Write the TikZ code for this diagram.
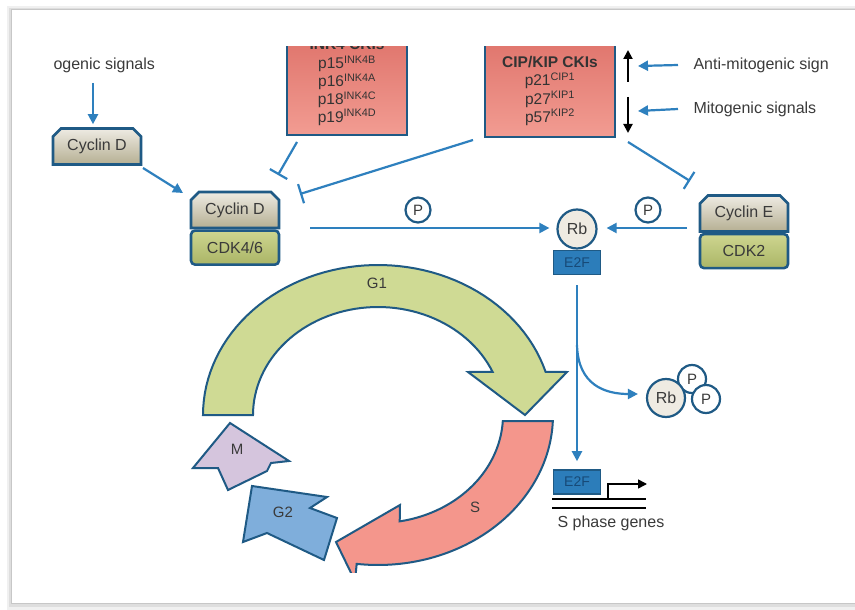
\documentclass[tikz,border=0pt]{standalone}
\usepackage{fontspec}
\setmainfont{Liberation Sans}
\usepackage{tikz}
\usetikzlibrary{arrows.meta,positioning,shapes.misc}

\definecolor{sigblue}{HTML}{2E80BE}
\definecolor{edgeblue}{HTML}{1F5A85}
\definecolor{txtgray}{HTML}{3A3A3A}
\definecolor{cycTop}{HTML}{EEEBE3}
\definecolor{cycBot}{HTML}{B5AF92}
\definecolor{cdkTop}{HTML}{CED690}
\definecolor{cdkBot}{HTML}{AAB566}
\definecolor{ckiDark}{HTML}{D9675F}
\definecolor{ckiLight}{HTML}{F29C92}
\definecolor{gone}{HTML}{CFDA94}
\definecolor{sfill}{HTML}{F4968C}
\definecolor{gtwo}{HTML}{7FAEDB}
\definecolor{mfill}{HTML}{D5C5DD}
\definecolor{rbfill}{HTML}{EFEBE2}
\definecolor{etwof}{HTML}{2C7DBA}
\definecolor{etwot}{HTML}{174A78}

\tikzset{
  lbl/.style={font=\fontsize{16}{18}\selectfont, text=txtgray},
  sig/.style={draw=sigblue, line width=2.2pt, -{Triangle[length=10pt,width=10pt]}},
  inh/.style={draw=sigblue, line width=2.2pt, -{Bar[width=20pt,line width=2.2pt]}},
  cycbox/.style={shape=chamfered rectangle, chamfered rectangle corners={north west,north east},
    chamfered rectangle xsep=4pt, chamfered rectangle ysep=4pt, draw=edgeblue, line width=2.6pt,
    top color=cycTop, bottom color=cycBot, minimum width=88pt, minimum height=36pt,
    inner sep=0pt, lbl},
  cdkbox/.style={rectangle, rounded corners=4pt, draw=edgeblue, line width=2.6pt,
    top color=cdkTop, bottom color=cdkBot, minimum width=88pt, minimum height=34pt,
    inner sep=0pt, lbl},
  ckibox/.style={rectangle, draw=edgeblue, line width=2.6pt, top color=ckiDark,
    bottom color=ckiLight, inner sep=0pt},
  ckitxt/.style={font=\fontsize{15.5}{17}\selectfont, text=black!80, anchor=base},
  pcirc/.style={circle, draw=edgeblue, line width=2.2pt, fill=white, minimum size=25pt,
    inner sep=0pt, font=\fontsize{15}{16}\selectfont, text=txtgray},
  rbcirc/.style={circle, draw=edgeblue, line width=2.2pt, fill=rbfill, minimum size=39pt,
    inner sep=0pt, font=\fontsize{16}{17}\selectfont, text=txtgray},
  e2fbox/.style={rectangle, draw=edgeblue, line width=1.6pt, fill=etwof, minimum width=47pt,
    minimum height=24pt, inner sep=0pt, font=\fontsize{14}{16}\selectfont, text=etwot},
  phase/.style={draw=edgeblue, line width=2pt, line join=miter},
  phaselbl/.style={font=\fontsize{15}{17}\selectfont, text=txtgray},
}

\begin{document}
\begin{tikzpicture}[x=1pt, y=-1pt]
  \useasboundingbox (0,0) rectangle (855,610);
  % frame and shadow
  \fill[black!6] (7,6) rectangle (870,610);
  \fill[black!13] (9,8) rectangle (870,607);
  \fill[white] (12,10) rectangle (870,603);
  \draw[black!22, line width=0.8pt] (11.5,9.5) rectangle (870,603.5);

  \begin{scope}
  \clip (48,47) rectangle (830,572);

  % mitogenic input to cyclin D
  \node[lbl, anchor=west] (mito) at (50,65) {ogenic signals};
  \node[cycbox] (cycD) at (97,146.5) {Cyclin D};
  \draw[sig] (93,83) coordinate (mitofoot) -- ([yshift=3pt]mitofoot |- cycD.north);

  % cyclin D / CDK4/6 complex
  \node[cycbox] (cycDc) at (235,210) {Cyclin D};
  \node[cdkbox, below=0pt of cycDc] (cdk46) {CDK4/6};
  \draw[sig] (143,168) coordinate (cycDout) -- (183,193) coordinate (cycDin);

  % CKI families
  \node[ckibox, minimum width=120pt, minimum height=130pt] (ink) at (347,70) {};
  \foreach \i/\t in {1/p15\textsuperscript{INK4B}, 2/p16\textsuperscript{INK4A},
                     3/p18\textsuperscript{INK4C}, 4/p19\textsuperscript{INK4D}}
    \node[ckitxt] (ink\i) at (347,51+17.8*\i) {\t};
  \node[ckitxt] (ink0) at (347,50) {\textbf{INK4 CKIs}};
  \node[ckibox, minimum width=130pt, minimum height=132pt] (cip) at (550,71) {};
  \foreach \i/\t in {0/\textbf{CIP/KIP CKIs}, 1/p21\textsuperscript{CIP1}, 2/p27\textsuperscript{KIP1},
                     3/p57\textsuperscript{KIP2}}
    \node[ckitxt] (cip\i) at (550,68+18*\i) {\t};

  % signals acting on CIP/KIP levels
  \node[lbl, anchor=west] (anti) at (690,65) {Anti-mitogenic sign};
  \node[lbl, anchor=west] (mitob) at (690,109) {Mitogenic signals};
  \draw[line width=2pt, -{Triangle[length=9pt,width=9pt]}] (628,82) coordinate (upfoot) -- (628,50);
  \draw[line width=2pt, -{Triangle[length=9pt,width=9pt]}] (628,97) coordinate (dnfoot) -- (628,133);
  \draw[sig] ([xshift=-12pt]anti.west) -- (638,66);
  \draw[sig] ([xshift=-12pt]mitob.west) -- (638,111);

  % inhibition of the kinase complexes
  \coordinate (inkend) at (278,175);
  \coordinate (cipendD) at (300,194);
  \coordinate (cipendE) at (690,181);
  \draw[inh] (297,142) -- (inkend);
  \draw[inh] (473,140) -- (cipendD);
  \draw[inh] (628,142) -- (cipendE);

  % Rb-E2F and its phosphorylation
  \node[rbcirc] (rb) at (577,229) {Rb};
  \node[e2fbox, below=0pt of rb] (e2f) {E2F};
  \node[cycbox] (cycE) at (744,213.5) {Cyclin E};
  \node[cdkbox, below=0pt of cycE] (cdk2) {CDK2};
  \node[pcirc] (p1) at (418,210) {P};
  \node[pcirc] (p2) at (648,210) {P};
  \draw[sig, shorten >=7pt] (310,228) coordinate (dstart) -- (dstart -| rb.west);
  \draw[sig, shorten >=9pt] (687,228) coordinate (estart) -- (estart -| rb.east);

  % release of E2F
  \node[e2fbox] (e2fb) at (577,482) {E2F};
  \node[pcirc, minimum size=28pt] (pa) at (692,379) {P};
  \node[pcirc, minimum size=28pt] (pb) at (706,399) {P};
  \node[rbcirc, minimum size=38pt] (rbp) at (666,398) {Rb};
  \draw[sig, shorten <=10pt, shorten >=8pt] (e2f.south) -- (e2fb.north);
  \coordinate (fork) at (577,345);
  \draw[sig] (fork) .. controls (578,385) and (605,394) .. ([xshift=-8pt]rbp.west |- 0,394);

  % target genes
  \draw[black, line width=2pt] (552,499) -- (646,499);
  \draw[black, line width=2pt] (552,508) -- (646,508);
  \draw[black, line width=1.6pt, -{Triangle[length=9pt,width=9pt]}] (608,499) |- (647,484);
  \node[lbl, anchor=west] (genes) at (554,523) {S phase genes};

  % cell cycle
  \filldraw[phase, fill=gone] (203,415)
    -- plot[domain=180:16.7, samples=60] ({378+175*cos(\x)},{415-150*sin(\x)})
    -- (567,372) -- (525,415) -- (468,372)
    -- plot[domain=23.5:180, samples=60] ({378+125*cos(\x)},{415-108*sin(\x)}) -- cycle;
  \filldraw[phase, fill=sfill]
    plot[domain=-2.3:-97, samples=60] ({378+175*cos(\x)},{415-150*sin(\x)})
    -- (355,581) -- (336,542) -- (400,505)
    -- plot[domain=-80:-3.2, samples=60] ({378+125*cos(\x)},{415-108*sin(\x)}) -- cycle;
  \filldraw[phase, fill=gtwo] (252,486) -- (327,497) -- (310,508) -- (337,518) -- (324,560)
    -- (267,533) -- (243,542) -- cycle;
  \filldraw[phase, fill=mfill] (230,423) -- (289,461) -- (271,463) -- (267,471) -- (228,490)
    -- (218,468) -- (193,468) -- cycle;
  \node[phaselbl] (g1) at (377,283) {G1};
  \node[phaselbl] (s) at (475,507) {S};
  \node[phaselbl] (g2) at (283,512) {G2};
  \node[phaselbl] (m) at (237,449) {M};
  \end{scope}
\end{tikzpicture}
\end{document}
